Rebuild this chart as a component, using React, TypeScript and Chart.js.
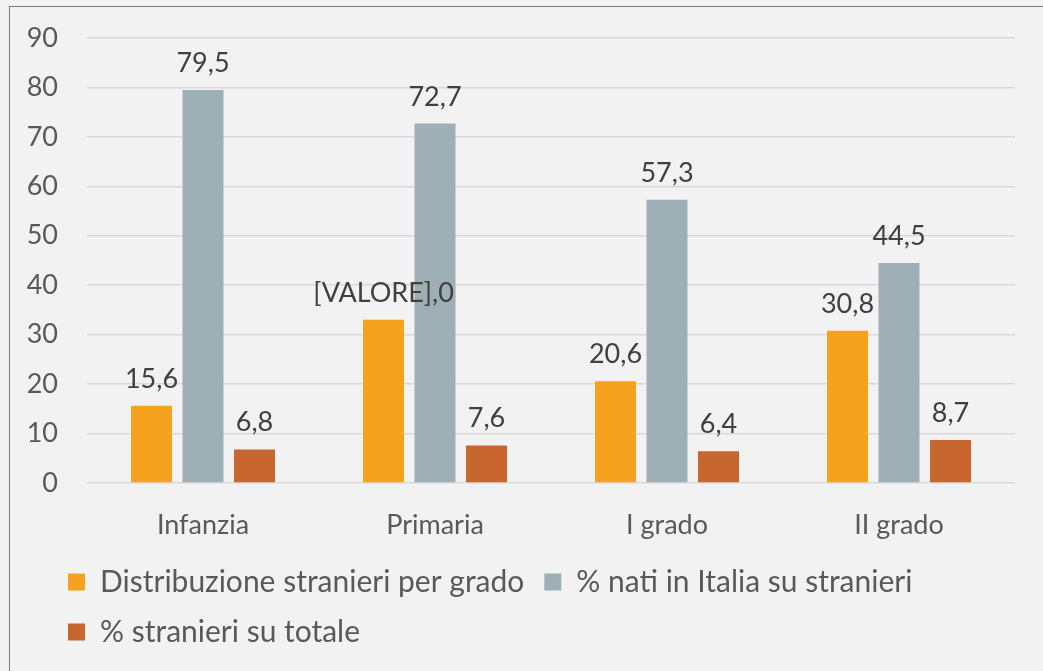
import React, { useEffect, useRef } from "react";
import { Chart, registerables } from "chart.js";

Chart.register(...registerables);

const categories = ["Infanzia", "Primaria", "I grado", "II grado"];
const seriesNames = [
  "Distribuzione stranieri per grado",
  "% nati in Italia su stranieri",
  "% stranieri su totale",
];
const distribuzione = [15.6, 33.0, 20.6, 30.8];
const natiItalia = [79.5, 72.7, 57.3, 44.5];
const stranieriTotale = [6.8, 7.6, 6.4, 8.7];
// label text shown in the reference for each bar (null = formatted value)
const distribuzioneLabels: (string | null)[] = [null, "[VALORE],0", null, null];
const yTicks = [0, 10, 20, 30, 40, 50, 60, 70, 80, 90];

const colors = ["#f5a31e", "#9eafb5", "#c8662f"];
const FONT = "Lato, 'Open Sans', sans-serif";
const FS = 27;
const LEGEND_FS = 30;

const fmt = (v: number) => v.toFixed(1).replace(".", ",");

const valueLabels = {
  id: "valueLabels",
  afterDatasetsDraw(chart: any) {
    const ctx = chart.ctx;
    ctx.save();
    ctx.font = `${FS}px ${FONT}`;
    ctx.fillStyle = "#404040";
    ctx.textAlign = "center";
    ctx.textBaseline = "alphabetic";
    chart.data.datasets.forEach((ds: any, di: number) => {
      const meta = chart.getDatasetMeta(di);
      meta.data.forEach((bar: any, i: number) => {
        const override = di === 0 ? distribuzioneLabels[i] : null;
        const text = override ?? fmt(ds.data[i]);
        ctx.fillText(text, bar.x, bar.y - 18);
      });
    });
    ctx.restore();
  },
};

export default function App() {
  const ref = useRef<HTMLCanvasElement>(null);
  useEffect(() => {
    if (!ref.current) return;
    const chart = new Chart(ref.current, {
      type: "bar",
      data: {
        labels: categories,
        datasets: [
          { label: seriesNames[0], data: distribuzione, backgroundColor: colors[0] },
          { label: seriesNames[1], data: natiItalia, backgroundColor: colors[1] },
          { label: seriesNames[2], data: stranieriTotale, backgroundColor: colors[2] },
        ],
      },
      options: {
        responsive: false,
        animation: false,
        datasets: {
          bar: { categoryPercentage: 0.666, barPercentage: 0.796 },
        },
        layout: { padding: { left: 48, right: 28, top: 38, bottom: 14 } },
        plugins: {
          tooltip: { enabled: false },
          legend: {
            position: "bottom",
            align: "start",
            labels: {
              boxWidth: 17,
              boxHeight: 17,
              padding: 20,
              color: "#595959",
              font: { family: FONT, size: LEGEND_FS },
            },
          },
        },
        scales: {
          x: {
            grid: { display: false, drawTicks: false },
            border: { display: false },
            ticks: {
              color: "#595959",
              font: { family: FONT, size: FS },
              padding: 26,
            },
            afterFit: (s: any) => {
              s.height = 64;
            },
          },
          y: {
            min: 0,
            max: 90,
            grid: { color: "#d9d9d9", lineWidth: 1.5, drawTicks: false },
            border: { display: false },
            afterBuildTicks: (s: any) => {
              s.ticks = yTicks.map((v) => ({ value: v }));
            },
            ticks: {
              color: "#595959",
              font: { family: FONT, size: FS },
              padding: 29,
            },
            afterFit: (s: any) => {
              s.width = 39;
              s.paddingTop = 0;
              s.paddingBottom = 0;
              s._computeLabelArea = () => undefined;
            },
          },
        },
      },
      plugins: [valueLabels],
    });
    return () => chart.destroy();
  }, []);

  return (
    <div
      style={{
        position: "fixed",
        left: 0,
        top: 0,
        width: 1043,
        height: 671,
        background: "#f2f2f2",
        overflow: "hidden",
      }}
    >
      <div
        style={{
          position: "absolute",
          left: 9,
          top: 6,
          width: 1100,
          height: 700,
          borderLeft: "1.5px solid #7a7a7a",
          borderTop: "1.5px solid #7a7a7a",
        }}
      />
      <canvas
        ref={ref}
        width={1043}
        height={671}
        style={{ position: "absolute", left: 0, top: 0 }}
      />
    </div>
  );
}
